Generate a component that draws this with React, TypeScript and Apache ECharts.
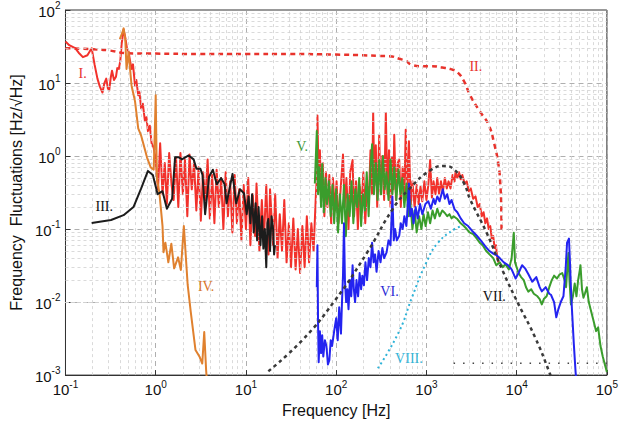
import React, { useEffect, useRef } from "react";
import * as echarts from "echarts";

// ---------- DATA (frequency [Hz], fluctuation [Hz/sqrt(Hz)]) ----------
const seriesI: [number, number][] = [
  [0.1, 37], [0.11, 33], [0.128, 30], [0.14, 26], [0.156, 22.6], [0.175, 24], [0.195, 30], [0.21, 18], [0.226, 11.5], [0.24, 9],
  [0.257, 7.4], [0.27, 10], [0.283, 11.5], [0.295, 8.5], [0.305, 7.9], [0.318, 12], [0.328, 14.7], [0.345, 11], [0.363, 12.2],
  [0.375, 16], [0.39, 15.6], [0.405, 20], [0.42, 35], [0.441, 54], [0.46, 42], [0.48, 30], [0.5, 27], [0.52, 20], [0.54, 15.6],
  [0.56, 18], [0.59, 9.2], [0.61, 11], [0.64, 6.8], [0.66, 7.5], [0.69, 4.5], [0.72, 5.2], [0.76, 3.0], [0.79, 3.4], [0.82, 2.2],
  [0.86, 2.6], [0.9, 1.5], [0.95, 1.3],
  [1.0, 0.9], [1.06, 0.35], [1.12, 1.5], [1.19, 0.3], [1.26, 0.8], [1.33, 0.22], [1.41, 1.1], [1.5, 0.4], [1.58, 0.25], [1.68, 0.95],
  [1.78, 0.2], [1.88, 1.1], [2.0, 0.3], [2.11, 0.9], [2.24, 0.15], [2.37, 1.05], [2.51, 0.35], [2.66, 0.8], [2.82, 0.18], [2.99, 0.7],
  [3.16, 0.13], [3.35, 0.6], [3.55, 0.25], [3.76, 0.9], [3.98, 0.14], [4.22, 0.55], [4.47, 0.12], [4.73, 0.65], [5.01, 0.2], [5.31, 0.5],
  [5.62, 0.1], [5.96, 0.6], [6.31, 0.15], [6.68, 0.45], [7.08, 0.09], [7.5, 0.55], [7.94, 0.12], [8.41, 0.35], [8.91, 0.07], [9.44, 0.4],
  [10, 0.1], [10.6, 0.5], [11.2, 0.06], [11.9, 0.3], [12.6, 0.08], [13.1, 0.42], [14.1, 0.05], [15.0, 0.25], [15.8, 0.07], [16.8, 0.4],
  [17.8, 0.045], [18.5, 0.35], [20.0, 0.06], [21.1, 0.3], [22.4, 0.04], [23.7, 0.16], [25.1, 0.05], [26.6, 0.25], [28.2, 0.035],
  [29.9, 0.12], [31.6, 0.03], [33.5, 0.14], [35.5, 0.028], [37.6, 0.1], [39.8, 0.025], [42.2, 0.11], [44.7, 0.03], [47.3, 0.15],
  [50.1, 0.035], [53.1, 0.12], [56.2, 0.05], [59.6, 0.3],
  [61, 0.5], [62, 3.6], [64, 0.4], [66, 1.2], [68, 0.25], [71, 0.8], [74, 0.15], [77, 0.6], [80, 0.2], [84, 0.55], [88, 0.12],
  [92, 0.5], [97, 0.18], [101, 0.45], [106, 0.12], [112, 0.35], [119, 1.05], [124, 0.2], [130, 0.5], [137, 0.1], [143, 0.6],
  [152, 0.88], [158, 0.15], [166, 0.45], [174, 0.1], [182, 0.4], [191, 0.2], [200, 0.6], [210, 0.12], [220, 0.4], [230, 0.25],
  [240, 1.2], [250, 0.3], [257, 3.9], [265, 0.4], [275, 1.4], [285, 0.2], [300, 1.95], [310, 0.3], [325, 1.0], [340, 0.25],
  [355, 3.9], [370, 0.3], [385, 1.2], [400, 0.2], [415, 0.95], [430, 0.35], [440, 1.95], [460, 0.25], [480, 0.8], [500, 0.9],
  [520, 0.2], [545, 0.7], [570, 0.3], [590, 2.3], [615, 0.25], [640, 1.6], [670, 0.22], [700, 0.45], [740, 0.2], [780, 0.4],
  [820, 0.22], [860, 0.38], [900, 0.24], [950, 0.45], [1000, 0.25], [1050, 0.4], [1100, 0.88], [1150, 0.27], [1200, 0.45],
  [1260, 0.3], [1320, 0.5], [1380, 0.3], [1450, 0.45], [1520, 0.32], [1600, 0.5], [1680, 0.36], [1760, 0.45], [1850, 0.36],
  [1950, 0.55], [2050, 0.45],
  [2100, 0.6], [2200, 0.5], [2300, 0.6], [2400, 0.48], [2500, 0.55], [2650, 0.42], [2800, 0.45], [2950, 0.33], [3100, 0.36],
  [3300, 0.26], [3500, 0.28], [3700, 0.2], [3900, 0.22], [4100, 0.15], [4300, 0.17], [4500, 0.12], [4700, 0.14], [4900, 0.1],
  [5100, 0.11], [5300, 0.075], [5500, 0.08], [5700, 0.055], [5900, 0.06], [6100, 0.04], [6300, 0.035],
];

const seriesII: [number, number][] = [
  [0.1, 30], [0.2, 29], [0.3, 28], [0.5, 25.5], [1, 25.3], [3, 25], [10, 25], [30, 25], [100, 24.5], [200, 24], [300, 23.5],
  [390, 23.3], [500, 21.5], [594, 20], [690, 17.7], [900, 17], [1130, 17], [1500, 16.3], [1860, 15.5], [2210, 14],
  [2620, 10.5], [3050, 6.8], [3900, 4.1], [4880, 2.7], [5660, 1.45], [6300, 0.75], [6600, 0.4], [6750, 0.2], [6800, 0.089],
];

const seriesIII: [number, number][] = [
  [0.195, 0.121], [0.32, 0.133], [0.44, 0.155], [0.567, 0.2], [0.69, 0.36], [0.82, 0.625], [0.93, 0.55], [1.05, 0.3],
  [1.19, 0.33], [1.33, 0.19], [1.52, 0.26], [1.64, 0.96], [1.81, 0.96], [1.95, 0.9], [2.32, 1.02], [2.63, 0.9], [2.83, 0.67],
  [3.13, 0.67], [3.3, 0.55], [3.53, 0.16], [3.9, 0.52], [4.3, 0.65], [4.75, 0.41], [5.3, 0.5], [5.8, 0.41], [6.1, 0.225],
  [7.1, 0.57], [7.8, 0.225], [8.6, 0.35], [9.5, 0.31], [10.2, 0.16], [10.7, 0.28], [11.2, 0.12], [11.7, 0.3], [12.2, 0.09],
  [12.8, 0.225], [13.3, 0.07], [13.8, 0.2], [14.5, 0.06], [15.1, 0.15], [15.6, 0.054], [16.2, 0.1], [16.8, 0.03], [17.3, 0.12],
  [17.7, 0.137], [18.5, 0.05], [19.2, 0.15], [20, 0.1], [20.5, 0.045], [21, 0.06],
];

const seriesIV: [number, number][] = [
  [0.4, 40], [0.43, 50], [0.441, 56], [0.46, 40], [0.475, 15.6], [0.5, 26.5], [0.54, 9.2], [0.59, 5.6], [0.64, 2.4], [0.69, 1.9],
  [0.75, 1.3], [0.8, 0.96], [0.88, 0.7], [0.95, 0.65], [0.98, 2.5], [1.0, 6.8], [1.03, 0.5], [1.1, 0.31], [1.19, 0.11],
  [1.22, 0.048], [1.28, 0.065], [1.38, 0.035], [1.49, 0.063], [1.6, 0.029], [1.77, 0.041], [1.9, 0.0275], [2.05, 0.11],
  [2.26, 0.0173], [2.44, 0.0075], [2.76, 0.0022], [3.05, 0.0018], [3.28, 0.00144], [3.45, 0.0039], [3.62, 0.00117], [3.7, 0.0008],
];

const seriesV: [number, number][] = [
  [58, 0.42], [61, 2.2], [63, 0.3], [65, 0.7], [68, 0.2], [70, 0.78], [73, 0.17], [76, 0.5], [79, 0.22], [83, 0.45], [87, 0.15],
  [91, 0.4], [95, 0.12], [100, 0.35], [105, 0.09], [110, 0.3], [116, 0.12], [122, 0.4], [128, 0.08], [134, 0.3], [141, 0.15],
  [148, 0.45], [155, 0.12], [163, 0.35], [171, 0.2], [180, 0.5], [189, 0.11], [198, 0.3], [208, 0.18], [218, 0.6], [229, 0.15],
  [240, 0.7], [250, 1.45], [262, 0.3], [275, 0.8], [288, 0.25], [300, 0.88], [315, 0.3], [330, 1.0], [345, 0.35], [360, 0.6],
  [380, 0.25], [400, 0.9], [420, 0.3], [440, 0.7], [465, 0.25], [490, 0.65], [515, 0.3], [540, 0.5], [570, 0.2], [600, 0.42],
  [630, 0.15], [660, 0.25], [700, 0.1], [740, 0.18], [780, 0.09], [830, 0.15], [880, 0.1], [930, 0.16], [980, 0.11],
  [1040, 0.17], [1100, 0.12], [1170, 0.18], [1240, 0.14], [1320, 0.19], [1400, 0.15], [1500, 0.18], [1600, 0.166],
  [1700, 0.15], [1800, 0.16], [1900, 0.14], [2000, 0.15], [2200, 0.137], [2400, 0.12], [2600, 0.11], [2800, 0.1],
  [3000, 0.09], [3300, 0.085], [3620, 0.074], [3900, 0.065], [4200, 0.06], [4600, 0.05], [5000, 0.045], [5500, 0.04],
  [5940, 0.032], [6500, 0.035], [7000, 0.03], [7500, 0.033], [8200, 0.028], [8800, 0.04], [9300, 0.089], [9600, 0.035],
  [10000, 0.03], [10500, 0.025], [11200, 0.022], [12000, 0.02], [12700, 0.016], [13460, 0.0139], [14500, 0.015],
  [15500, 0.013], [17000, 0.012], [18000, 0.011], [19000, 0.0093], [20000, 0.011], [21500, 0.012], [23000, 0.016],
  [24500, 0.02], [26000, 0.023], [28000, 0.021], [30000, 0.024], [32000, 0.025], [34000, 0.02], [35300, 0.016],
  [36500, 0.03], [37500, 0.047], [38500, 0.02], [40000, 0.0093], [42000, 0.012], [44000, 0.018], [46000, 0.012],
  [48000, 0.02], [50000, 0.027], [51000, 0.032], [53000, 0.015], [55000, 0.0115], [57000, 0.013], [60000, 0.016],
  [63000, 0.01], [66000, 0.008], [70000, 0.006], [76000, 0.004], [80000, 0.0045], [85000, 0.0025], [90000, 0.0018],
  [95000, 0.0014], [100000, 0.0011],
];

const seriesVI: [number, number][] = [
  [61, 0.016], [62, 0.06], [63, 0.005], [64, 0.0015], [66, 0.004], [68, 0.002], [70, 0.0035], [72, 0.0018], [75, 0.003],
  [78, 0.0025], [81, 0.0014], [84, 0.0016], [87, 0.003], [90, 0.0025], [95, 0.004], [100, 0.006], [104, 0.003], [108, 0.0085],
  [113, 0.0037], [116, 0.01], [119, 0.023], [122, 0.12], [125, 0.02], [129, 0.01], [133, 0.015], [137, 0.008], [142, 0.02],
  [147, 0.012], [152, 0.032], [157, 0.015], [162, 0.01], [168, 0.02], [175, 0.012], [182, 0.025], [189, 0.015], [195, 0.023],
  [203, 0.017], [211, 0.035], [220, 0.02], [230, 0.04], [240, 0.03], [250, 0.065], [260, 0.035], [270, 0.045], [280, 0.026],
  [295, 0.05], [310, 0.035], [325, 0.055], [340, 0.04], [362, 0.048], [380, 0.07], [400, 0.06], [420, 0.28], [435, 0.07],
  [450, 0.1], [470, 0.07], [500, 0.081], [520, 0.12], [545, 0.1], [570, 0.15], [600, 0.11], [620, 0.2], [640, 0.42],
  [660, 0.15], [690, 0.19], [720, 0.12], [760, 0.2], [800, 0.14], [850, 0.22], [900, 0.16], [975, 0.22], [1050, 0.24],
  [1120, 0.19], [1200, 0.26], [1250, 0.22], [1320, 0.28], [1400, 0.24], [1520, 0.35], [1600, 0.26], [1700, 0.3], [1800, 0.22],
  [1900, 0.25], [2050, 0.186], [2200, 0.17], [2400, 0.14], [2620, 0.12], [2900, 0.11], [3200, 0.095], [3620, 0.081],
  [4000, 0.07], [4500, 0.058], [5000, 0.05], [5500, 0.046], [5940, 0.044], [6500, 0.04], [7200, 0.035], [8000, 0.032],
  [8800, 0.028], [9750, 0.021], [10500, 0.025], [11500, 0.032], [12400, 0.029], [13500, 0.024], [14900, 0.019],
  [16500, 0.022], [18000, 0.016], [19000, 0.014], [21000, 0.016], [23000, 0.013], [24000, 0.0126], [26000, 0.01],
  [27500, 0.0062], [29000, 0.008], [31000, 0.0102], [33000, 0.012], [35000, 0.03], [36200, 0.065], [38000, 0.074],
  [39000, 0.035], [39800, 0.0175], [41000, 0.008], [43000, 0.0027], [45000, 0.0011], [46000, 0.0008],
];

const seriesVII: [number, number][] = [
  [17.7, 0.00113], [42, 0.003], [95, 0.0102], [221, 0.048], [421, 0.186], [640, 0.35], [1130, 0.65], [1600, 0.73],
  [2040, 0.65], [2620, 0.42], [3050, 0.255], [4650, 0.089], [7080, 0.026], [10500, 0.0093], [16000, 0.0033],
  [23200, 0.00107], [25000, 0.0008],
];

const seriesVIII: [number, number][] = [
  [290, 0.00124], [500, 0.004], [690, 0.0115], [1000, 0.035], [1345, 0.065], [2050, 0.1], [2400, 0.108],
];

const floorDots: [number, number][] = [
  [2000, 0.00145], [100000, 0.00145],
];

const xDecades = [-1, 0, 1, 2, 3, 4, 5];
const yDecades = [-3, -2, -1, 0, 1, 2];

const curveLabels = ["I.", "II.", "III.", "IV.", "V.", "VI.", "VII.", "VIII."];
const curveLabelAt: [number, number][] = [
  [0.155, 13.4], [3530, 16.6], [0.269, 0.205], [3.62, 0.0162], [42, 1.36], [390, 0.0139], [5660, 0.0119], [640, 0.0017],
];
const curveLabelColors = ["#e8332c", "#e8332c", "#111111", "#d9782d", "#3e9a3a", "#2b2bd6", "#111111", "#33b5d8"];

// ---------- STYLE ----------
const SANS = "'Liberation Sans', Arial, sans-serif";
const SERIF = "'Liberation Serif', 'Times New Roman', serif";

const tickLabel = (v: number) => {
  const e = Math.round(Math.log10(v));
  return `{b|10}{s|${e}}`;
};
const richLabel = {
  b: { fontSize: 15, fontFamily: SANS, color: "#111", verticalAlign: "bottom" as const, lineHeight: 17 },
  s: { fontSize: 10, fontFamily: SANS, color: "#111", verticalAlign: "bottom" as const, padding: [0, 0, 8, 0], lineHeight: 10 },
};

export default function App() {
  const ref = useRef<HTMLDivElement>(null);
  useEffect(() => {
    document.body.style.margin = "0";
    const chart = echarts.init(ref.current!, null, { renderer: "svg" });

    const minorX: number[] = [];
    xDecades.slice(0, -1).forEach((e) => {
      for (let m = 2; m <= 9; m++) minorX.push(m * Math.pow(10, e));
    });
    const minorY: number[] = [];
    yDecades.slice(0, -1).forEach((e) => {
      for (let m = 2; m <= 9; m++) minorY.push(m * Math.pow(10, e));
    });

    const line = (name: string, data: [number, number][], color: string, width: number, type: any = "solid", z = 3, smooth = false) => ({
      name,
      type: "line",
      data,
      symbol: "none",
      smooth,
      z,
      lineStyle: { color, width, type, cap: "butt", join: "round" },
      itemStyle: { color },
    });

    chart.setOption({
      animation: false,
      backgroundColor: "#fff",
      grid: { left: 56, right: 7, top: 10, bottom: 41, show: true, borderColor: "#333", borderWidth: 1, backgroundColor: "transparent" },
      xAxis: {
        type: "log",
        logBase: 10,
        min: 0.1,
        max: 100000,
        interval: 1,
        name: "Frequency [Hz]",
        nameLocation: "middle",
        nameGap: 26,
        nameTextStyle: { fontFamily: SANS, fontSize: 16, color: "#111" },
        axisLine: { show: true, lineStyle: { color: "#333", width: 1 } },
        axisTick: { show: true, inside: true, length: 5, lineStyle: { color: "#333" } },
        axisLabel: { formatter: tickLabel, rich: richLabel, margin: 5, showMaxLabel: true, showMinLabel: true },
        splitLine: { show: true, lineStyle: { color: "#9a9a9a", type: [5, 4], width: 0.8 } },
      },
      yAxis: {
        type: "log",
        logBase: 10,
        min: 0.001,
        max: 100,
        interval: 1,
        name: "Frequency  Fluctuations [Hz/\u221AHz]",
        nameLocation: "middle",
        nameGap: 35,
        nameTextStyle: { fontFamily: SANS, fontSize: 16, color: "#111" },
        axisLine: { show: true, lineStyle: { color: "#333", width: 1 } },
        axisTick: { show: true, inside: true, length: 5, lineStyle: { color: "#333" } },
        axisLabel: { formatter: tickLabel, rich: richLabel, margin: 5, showMaxLabel: true, showMinLabel: true },
        splitLine: { show: true, lineStyle: { color: "#9a9a9a", type: [5, 4], width: 0.8 } },
      },
      series: [
        {
          name: "grid",
          type: "line",
          data: [[0.1, 100]],
          symbol: "none",
          z: 1,
          lineStyle: { opacity: 0 },
          markLine: {
            silent: true,
            symbol: "none",
            label: { show: false },
            animation: false,
            lineStyle: { color: "#d0d0d0", type: [3, 3], width: 0.8 },
            data: [...minorX.map((v) => ({ xAxis: v })), ...minorY.map((v) => ({ yAxis: v }))],
          },
        },
        line("II", seriesII, "#e8332c", 2.5, [5, 4], 3, true),
        line("I", seriesI, "#f2312b", 2, "solid", 4),
        line("IV", seriesIV, "#e0812f", 2, "solid", 5),
        line("III", seriesIII, "#1c1c1c", 2, "solid", 6),
        line("V", seriesV, "#3a9d2c", 2, "solid", 7),
        line("VI", seriesVI, "#2424f0", 2, "solid", 8),
        line("VIII", seriesVIII, "#2fb3d8", 2, [2, 3], 9, true),
        line("floor", floorDots, "#444", 1.5, [1.5, 8], 9),
        {
          ...line("VII", seriesVII, "#3a3a3a", 2.5, [3.5, 3.5], 10, true),
          markPoint: {
            silent: true,
            symbol: "circle",
            symbolSize: 0,
            itemStyle: { color: "transparent" },
            data: curveLabels.map((t, i) => ({
              name: t,
              coord: curveLabelAt[i],
              label: {
                show: true,
                position: "inside",
                formatter: t,
                fontFamily: SERIF,
                fontSize: 14,
                color: curveLabelColors[i],
              },
            })),
          },
        },
      ],
    });
    return () => chart.dispose();
  }, []);
  return <div ref={ref} style={{ width: 621, height: 423 }} />;
}
